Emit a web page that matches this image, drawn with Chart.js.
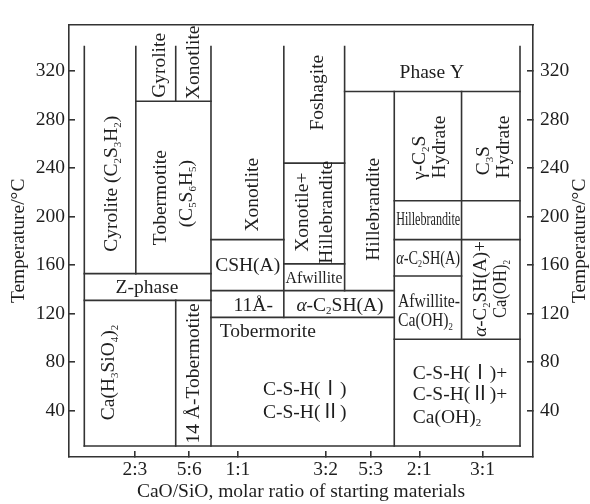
<!DOCTYPE html>
<html>
<head>
<meta charset="utf-8">
<script src="https://cdn.jsdelivr.net/npm/chart.js@4.4.1/dist/chart.umd.min.js"></script>
<style>
  html, body { margin: 0; padding: 0; background: #fff; }
  #wrap { width: 590px; height: 504px; }
</style>
</head>
<body>
<div id="wrap"><canvas id="c" width="590" height="504"></canvas></div>
<script>
// CaO/SiO2 ratios marked on the (schematic) composition axis, 0–100
const ratioLabels    = ['2:3', '5:6', '1:1', '3:2', '5:3', '2:1', '3:1'];
const ratioPositions = [14.2, 25.9, 36.4, 55.3, 65.0, 75.5, 89.1];

// Temperature ticks, °C
const temperatureTicks = [40, 80, 120, 160, 200, 240, 280, 320];

// Vertical field boundaries: [composition, T from, T to]
const verticalBoundaries = [
  [3.3, 11, 340],
  [14.4, 153, 340],
  [23.0, 295, 340],
  [23.0, 11, 131],
  [30.6, 11, 340],
  [46.3, 117, 340],
  [59.4, 139, 340],
  [70.1, 11, 303],
  [84.6, 99, 303],
  [97.2, 11, 340]
];

// Horizontal field boundaries: [temperature, composition from, composition to]
const horizontalBoundaries = [
  [295, 14.4, 30.6],
  [303, 59.4, 97.2],
  [244, 46.3, 59.4],
  [181, 30.6, 46.3],
  [213, 70.1, 97.2],
  [181, 70.1, 97.2],
  [151, 70.1, 84.6],
  [99, 70.1, 97.2],
  [161, 46.3, 59.4],
  [139, 30.6, 70.1],
  [117, 30.6, 70.1],
  [153, 3.3, 30.6],
  [131, 3.3, 30.6],
  [11, 3.3, 97.2]
];

// Phase-field names. '_' lowers the next character, '*' toggles italics.
// [text, composition, temperature, rotated, align, size, max width]
const fieldLabels = [
  ['Cyrolite (C_2S_3H_2)', 9.05, 227, true, 'center', 19.5, 0],
  ['Gyrolite', 19.2, 324.5, true, 'center', 19.5, 0],
  ['Xonotlite', 26.7, 327, true, 'center', 19.5, 0],
  ['Tobermotite', 19.6, 215.6, true, 'center', 19.5, 0],
  ['(C_5S_6H_5)', 25.2, 218.8, true, 'center', 19.5, 0],
  ['Xonotlite', 39.4, 218, true, 'center', 19.5, 0],
  ['Foshagite', 53.4, 302, true, 'center', 19.5, 0],
  ['Phase Y', 78.2, 319.6, false, 'center', 19.5, 0],
  ['Xonotile+', 50.2, 203.6, true, 'center', 19.5, 0],
  ['Hillebrandite', 55.4, 203.6, true, 'center', 19.5, 0],
  ['Hillebrandite', 65.5, 206, true, 'center', 19.5, 0],
  ['γ-C_2S', 75.4, 248.4, true, 'center', 19.5, 0],
  ['Hydrate', 79.7, 257.2, true, 'center', 19.5, 0],
  ['C_3S', 89.2, 246, true, 'center', 19.5, 0],
  ['Hydrate', 93.5, 257.2, true, 'center', 19.5, 0],
  ['Hillebrandite', 77.4, 197.6, false, 'center', 18, 64],
  ['*α*-C_2SH(A)', 77.4, 166, false, 'center', 18, 64],
  ['Afwillite-', 70.9, 130.8, false, 'left', 19, 62],
  ['Ca(OH)_2', 70.9, 114.8, false, 'left', 19, 55],
  ['*α*-C_2SH(A)+', 88.6, 140.4, true, 'center', 19, 0],
  ['Ca(OH)_2', 92.9, 140.4, true, 'center', 19, 58],
  ['CSH(A)', 38.5, 160.4, false, 'center', 19.5, 0],
  ['Afwillite', 52.8, 150.4, false, 'center', 17.5, 57],
  ['11Å-', 39.7, 127.6, false, 'center', 19.5, 0],
  ['*α*-C_2SH(A)', 58.4, 127.6, false, 'center', 19.5, 0],
  ['Tobermorite', 32.5, 106, false, 'left', 19.5, 0],
  ['C-S-H(Ⅰ)', 50.8, 58.4, false, 'center', 19.5, 0],
  ['C-S-H(Ⅱ)', 50.8, 39.6, false, 'center', 19.5, 0],
  ['C-S-H(Ⅰ)+', 74.1, 71.6, false, 'left', 19.5, 0],
  ['C-S-H(Ⅱ)+', 74.1, 54, false, 'left', 19.5, 0],
  ['Ca(OH)_2', 74.1, 35.6, false, 'left', 19.5, 0],
  ['Z-phase', 16.8, 142, false, 'center', 19.5, 0],
  ['Ca(H_3SiO_4)_2', 8.4, 71.6, true, 'center', 19.5, 0],
  ['14 Å-Tobermotite', 26.7, 70.8, true, 'center', 19.5, 0]
];

const FONT = "'Liberation Serif', 'Noto Sans CJK SC', serif";
const INK = '#1e1e1e';
const LINE = '#333333';
const TEXT_SIZE = 19.5;

function segment(points) {
  return {
    data: points,
    borderColor: LINE,
    borderWidth: 1.6,
    borderCapStyle: 'square',
    pointRadius: 0,
    fill: false,
    tension: 0,
    xAxisID: 'x',
    yAxisID: 'y'
  };
}

const datasets = [];
verticalBoundaries.forEach(([x, t0, t1]) => datasets.push(segment([{ x, y: t0 }, { x, y: t1 }])));
horizontalBoundaries.forEach(([t, x0, x1]) => datasets.push(segment([{ x: x0, y: t }, { x: x1, y: t }])));

function parseRich(s) {
  const runs = [];
  let italic = false;
  for (let i = 0; i < s.length; i++) {
    const ch = s[i];
    if (ch === '*') { italic = !italic; continue; }
    if (ch === '_') { runs.push({ t: s[i + 1], sub: true, it: italic }); i++; continue; }
    const last = runs[runs.length - 1];
    if (last && !last.sub && last.it === italic) last.t += ch;
    else runs.push({ t: ch, sub: false, it: italic });
  }
  return runs;
}

function fontStr(size, italic) {
  return (italic ? 'italic ' : '') + size + 'px ' + FONT;
}

// Draws a formula-style string around the current origin
function drawRich(ctx, s, size, align, maxW) {
  const runs = parseRich(s);
  let w = 0;
  runs.forEach(r => {
    r.size = r.sub ? size * 0.56 : size;
    ctx.font = fontStr(r.size, r.it);
    r.w = ctx.measureText(r.t).width;
    w += r.w;
  });
  const k = (maxW && w > maxW) ? maxW / w : 1;
  ctx.save();
  ctx.scale(k, 1);
  let x = align === 'left' ? 0 : -w / 2;
  const base = size * 0.33;
  runs.forEach(r => {
    ctx.font = fontStr(r.size, r.it);
    ctx.fillText(r.t, x, r.sub ? base + size * 0.17 : base);
    x += r.w;
  });
  ctx.restore();
}

const fieldLabelPlugin = {
  id: 'fieldLabels',
  afterDatasetsDraw(chart) {
    const { ctx, scales: { x, y } } = chart;
    ctx.save();
    ctx.fillStyle = INK;
    ctx.textAlign = 'left';
    ctx.textBaseline = 'alphabetic';
    fieldLabels.forEach(([text, cx, ct, rotated, align, size, maxW]) => {
      ctx.save();
      ctx.translate(x.getPixelForValue(cx), y.getPixelForValue(ct));
      if (rotated) ctx.rotate(-Math.PI / 2);
      drawRich(ctx, text, size, align, maxW);
      ctx.restore();
    });
    // right-hand axis title, reading upwards like the left one
    const r = chart.scales.y2;
    ctx.save();
    ctx.translate(r.right - 10, (r.top + r.bottom) / 2);
    ctx.rotate(-Math.PI / 2);
    ctx.font = fontStr(TEXT_SIZE, false);
    ctx.textAlign = 'center';
    ctx.textBaseline = 'middle';
    ctx.fillText('Temperature/°C', 0, 0);
    ctx.restore();
    ctx.restore();
  }
};

const tickFont = { family: FONT, size: TEXT_SIZE };
const frameGrid = { drawOnChartArea: false, drawTicks: true, tickLength: -6, color: LINE, lineWidth: 1.6 };
const frameBorder = { display: true, color: LINE, width: 1.6 };
const setTempTicks = s => { s.ticks = temperatureTicks.map(v => ({ value: v })); };

new Chart(document.getElementById('c'), {
  type: 'line',
  data: { datasets },
  options: {
    responsive: false,
    animation: false,
    devicePixelRatio: 1,
    layout: { padding: 0 },
    plugins: { legend: { display: false }, tooltip: { enabled: false } },
    scales: {
      x: {
        type: 'linear', position: 'bottom', min: 0, max: 100,
        afterBuildTicks: s => { s.ticks = ratioPositions.map(v => ({ value: v })); },
        afterFit: s => { s.height = 47; },
        ticks: {
          autoSkip: false, maxRotation: 0, minRotation: 0, padding: 7, color: INK, font: tickFont,
          callback: v => ratioLabels[ratioPositions.indexOf(v)]
        },
        grid: frameGrid,
        border: frameBorder,
        title: {
          display: true, text: 'CaO/SiO, molar ratio of starting materials',
          color: INK, font: tickFont, padding: { top: 0, bottom: 0 }
        }
      },
      xTop: {
        type: 'linear', position: 'top', min: 0, max: 100,
        afterFit: s => { s.height = 12; },
        ticks: { display: false },
        grid: { drawOnChartArea: false, drawTicks: false },
        border: frameBorder
      },
      y: {
        type: 'linear', position: 'left', min: 2, max: 358,
        afterBuildTicks: setTempTicks,
        afterFit: s => { s.width = 69; },
        ticks: { padding: 10, color: INK, font: tickFont },
        grid: frameGrid,
        border: frameBorder,
        title: {
          display: true, text: 'Temperature/°C',
          color: INK, font: tickFont, padding: { top: 7, bottom: 0 }
        }
      },
      y2: {
        type: 'linear', position: 'right', min: 2, max: 358,
        afterBuildTicks: setTempTicks,
        afterFit: s => { s.width = 57; },
        ticks: { padding: 13, color: INK, font: tickFont },
        grid: frameGrid,
        border: frameBorder
      }
    }
  },
  plugins: [fieldLabelPlugin]
});
</script>
</body>
</html>
